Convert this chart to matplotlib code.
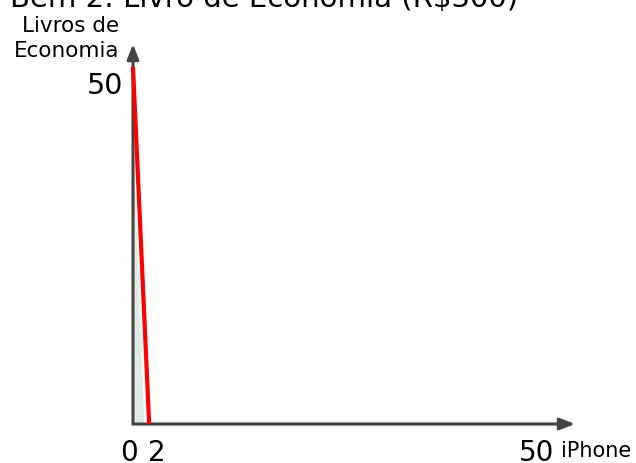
import matplotlib.pyplot as plt

# ---- data ----
title = "Bem 2: Livro de Economia (R$300)"
x_label = "iPhone"
y_label = "Livros de\nEconomia"
x_ticks = [0, 2, 50]
y_ticks = [50]
line_x = [0, 2]
line_y = [50, 0]
shade_x = [0, 0, 1.4]
shade_y = [0, 40, 0]

W, H = 636, 464
fig = plt.figure(figsize=(W / 100, H / 100), dpi=100)

# axes box in pixels: origin (133, 425), x tip 575, y tip 45
left, right, bottom, top = 133, 575, 425, 45
ax = fig.add_axes([left / W, (H - bottom) / H, (right - left) / W, (bottom - top) / H])
ax.set_xlim(0, 50 * (right - left) / 404)
ax.set_ylim(0, 50 * (bottom - top) / 357)
ax.axis("off")

axis_color = "#444444"
xmax = ax.get_xlim()[1]
ymax = ax.get_ylim()[1]
arrow = dict(arrowstyle="-|>,head_length=0.9,head_width=0.35",
             color=axis_color, lw=2.2, shrinkA=0, shrinkB=0)
ax.annotate("", xy=(xmax, 0), xytext=(0, 0), annotation_clip=False, arrowprops=arrow)
ax.annotate("", xy=(0, ymax), xytext=(0, 0), annotation_clip=False, arrowprops=arrow)

ax.fill(shade_x, shade_y, color="#e0ebe3", lw=0, zorder=1)
ax.plot(line_x, line_y, color="red", lw=3, solid_capstyle="butt", zorder=3, clip_on=False)

# tick labels
offsets = {0: -4, 2: 8, 50: 0}
for xv in x_ticks:
    ax.annotate(str(xv), xy=(xv, 0), xytext=(offsets[xv] * 0.72, -26),
                textcoords="offset points", ha="center", va="baseline", fontsize=20,
                annotation_clip=False)
for yv in y_ticks:
    ax.annotate(str(yv), xy=(0, yv), xytext=(-7, -13),
                textcoords="offset points", ha="right", va="center", fontsize=20.5,
                annotation_clip=False)

ax.annotate(x_label, xy=(50, 0), xytext=(17, -23), textcoords="offset points",
            ha="left", va="baseline", fontsize=15, annotation_clip=False)
fig.text(119 / W, (H - 57) / H, y_label, ha="right", va="baseline",
         multialignment="right", fontsize=15.5, linespacing=1.3)

fig.text(10 / W, (H - 7) / H, title, ha="left", va="baseline", fontsize=21)

fig.savefig("out.png", dpi=100)
